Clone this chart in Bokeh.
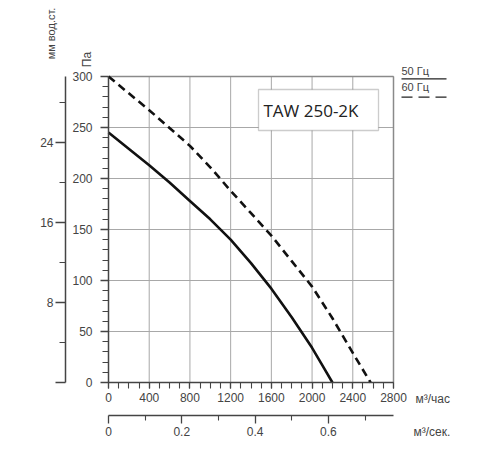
import math
from bokeh.plotting import figure
from bokeh.models import Range1d, LinearAxis, FixedTicker, Label, BoxAnnotation
from bokeh.embed import file_html
from bokeh.resources import INLINE

# ---- data ----
flow_50 = [0, 400, 600, 800, 1000, 1200, 1400, 1600, 1800, 2000, 2100, 2200]
pa_50 = [245, 213, 196, 178, 160, 140, 117, 92, 64, 34, 17, 0]
flow_60 = [0, 400, 800, 1000, 1200, 1400, 1600, 1800, 2000, 2200, 2400, 2575]
pa_60 = [300, 267, 232, 211, 188, 166, 144, 119, 94, 63, 29, 0]

flow_ticks = [0, 400, 800, 1200, 1600, 2000, 2400, 2800]
flow_minor = list(range(0, 2801, 100))
pa_ticks = [0, 50, 100, 150, 200, 250, 300]
pa_minor = list(range(0, 301, 10))
mm_ticks = [0, 8, 16, 24]
mm_minor = [4, 12, 20, 28]
ms_ticks = [0, 0.2, 0.4, 0.6]
ms_minor = [0.1, 0.3, 0.5, 0.7]

PA_PER_MM = 9.80665
SEC_PER_H = 3600
FLOW_MAX = 2800
PA_MAX = 300
title_text = "TAW 250-2K"
legend_labels = ["50 Гц", "60 Гц"]
unit_h = "м³/час"
unit_s = "м³/сек."
unit_mm = "мм вод.ст."
unit_pa = "Па"

# ---- layout (canvas pixels) ----
W, H = 484, 442
X0, X1 = 108, 393      # pixel of flow 0 and FLOW_MAX
Y0, Y1 = 382, 76       # pixel of 0 Pa and PA_MAX
XS = (X1 - X0) / FLOW_MAX
YS = (Y0 - Y1) / PA_MAX


def dx(px):
    return (px - X0) / XS


def dy(py):
    return (Y0 - py) / YS


FONT = "Liberation Sans"
AX = "#444444"
TXT = "#444444"
GRID = "#a8a8a8"

p = figure(width=W, height=H, output_backend="svg", toolbar_location=None,
           x_range=Range1d(dx(0), dx(W)), y_range=Range1d(dy(H), dy(0)),
           x_axis_type=None, y_axis_type=None,
           min_border=0, min_border_left=0, min_border_right=0,
           min_border_top=0, min_border_bottom=0)
p.background_fill_color = "white"
p.border_fill_color = "white"
p.outline_line_color = None
p.grid.visible = False

p.extra_y_ranges = {"mm": Range1d(dy(H) / PA_PER_MM, dy(0) / PA_PER_MM)}
p.extra_x_ranges = {"ms": Range1d(dx(0) / SEC_PER_H, dx(W) / SEC_PER_H)}

# grid lines + plot box (top and right edges are the last grid lines)
nx = len(flow_ticks)
ny = len(pa_ticks)
p.segment(x0=flow_ticks, y0=[0] * nx, x1=flow_ticks, y1=[PA_MAX] * nx,
          line_color=GRID, line_width=1)
p.segment(x0=[0] * ny, y0=pa_ticks, x1=[FLOW_MAX] * ny, y1=pa_ticks,
          line_color=GRID, line_width=1)
p.segment(x0=[0, FLOW_MAX], y0=[PA_MAX, 0], x1=[FLOW_MAX, FLOW_MAX],
          y1=[PA_MAX, PA_MAX], line_color="#8a8a8a", line_width=1.5)


def style_axis(ax, major_out, minor_out, standoff):
    ax.axis_line_color = AX
    ax.axis_line_width = 1.5
    ax.major_tick_line_color = AX
    ax.minor_tick_line_color = AX
    ax.major_tick_line_width = 1.3
    ax.minor_tick_line_width = 1.1
    ax.major_tick_in = 0
    ax.minor_tick_in = 0
    ax.major_tick_out = major_out
    ax.minor_tick_out = minor_out
    ax.major_label_standoff = standoff
    ax.major_label_text_font = FONT
    ax.major_label_text_font_size = "12px"
    ax.major_label_text_color = TXT


# flow axis, m3/h
xa = LinearAxis(ticker=FixedTicker(ticks=flow_ticks, minor_ticks=flow_minor),
                fixed_location=0, bounds=(0, FLOW_MAX))
style_axis(xa, 6, 6, 4)
p.add_layout(xa, "below")

# pressure axis, Pa
ya = LinearAxis(ticker=FixedTicker(ticks=pa_ticks, minor_ticks=pa_minor),
                fixed_location=0, bounds=(0, PA_MAX))
style_axis(ya, 8, 6, 8)
p.add_layout(ya, "left")

# pressure axis, mm water column
mm_axis = LinearAxis(y_range_name="mm",
                     ticker=FixedTicker(ticks=mm_ticks, minor_ticks=mm_minor),
                     major_label_overrides={0: ""},
                     fixed_location=dx(65), bounds=(0, PA_MAX / PA_PER_MM))
style_axis(mm_axis, 10, 6, 2)
p.add_layout(mm_axis, "left")

# flow axis, m3/s
ms_axis = LinearAxis(x_range_name="ms",
                     ticker=FixedTicker(ticks=ms_ticks, minor_ticks=ms_minor),
                     fixed_location=dy(415), bounds=(0, FLOW_MAX / SEC_PER_H))
style_axis(ms_axis, 8, 5, 3)
p.add_layout(ms_axis, "below")

# curves
p.line(flow_50, pa_50, line_color="#111111", line_width=2.6, line_join="round")
p.line(flow_60, pa_60, line_color="#111111", line_width=2.6, line_dash="8 5",
       line_join="round")

# title box
p.add_layout(BoxAnnotation(left=dx(258), right=dx(378), bottom=dy(130), top=dy(89),
                           fill_color="white", fill_alpha=1.0,
                           line_color="#555555", line_width=1.3))
p.add_layout(Label(x=dx(263), y=dy(110), text=title_text, text_font="Open Sans",
                   text_font_size="17px", text_color="#222222",
                   text_baseline="middle", text_align="left"))

# legend (upper right, outside the plot box)
p.add_layout(Label(x=dx(401), y=dy(70), text=legend_labels[0], text_font=FONT,
                   text_font_size="11px", text_color=TXT, text_baseline="middle"))
p.add_layout(Label(x=dx(401), y=dy(86), text=legend_labels[1], text_font=FONT,
                   text_font_size="11px", text_color=TXT, text_baseline="middle"))
p.line([dx(401), dx(446)], [dy(78.3), dy(78.3)], line_color="#222222", line_width=1.2)
p.line([dx(401), dx(446)], [dy(96.7), dy(96.7)], line_color="#222222", line_width=1.2,
       line_dash="11 6")

# unit labels
p.add_layout(Label(x=dx(415), y=dy(398), text=unit_h, text_font=FONT,
                   text_font_size="12px", text_color=TXT, text_baseline="middle"))
p.add_layout(Label(x=dx(413), y=dy(431), text=unit_s, text_font=FONT,
                   text_font_size="12px", text_color=TXT, text_baseline="middle"))
p.add_layout(Label(x=dx(50), y=dy(33), text=unit_mm, angle=math.pi / 2,
                   text_font=FONT, text_font_size="11px", text_color=TXT,
                   text_baseline="middle", text_align="center"))
p.add_layout(Label(x=dx(86), y=dy(59), text=unit_pa, angle=math.pi / 2,
                   text_font=FONT, text_font_size="12px", text_color=TXT,
                   text_baseline="middle", text_align="center"))

open("out.html", "w").write(file_html(p, INLINE))
